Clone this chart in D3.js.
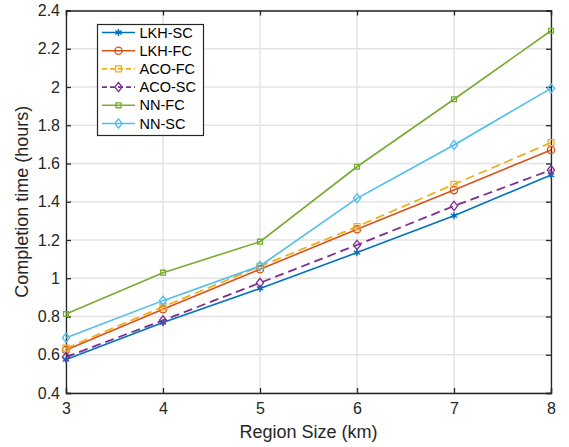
<!DOCTYPE html>
<html><head><meta charset="utf-8">
<script src="https://cdn.jsdelivr.net/npm/d3@7"></script>
<style>body{margin:0;background:#fff}svg{display:block}text{font-family:"Liberation Sans",Arial,sans-serif;}</style>
</head><body><svg id="c" width="569" height="447"></svg>
<script>
const xValues = [3, 4, 5, 6, 7, 8];
const xTicks = [3, 4, 5, 6, 7, 8];
const yTicks = [0.4, 0.6, 0.8, 1, 1.2, 1.4, 1.6, 1.8, 2, 2.2, 2.4];
const seriesNames = ["LKH-SC", "LKH-FC", "ACO-FC", "ACO-SC", "NN-FC", "NN-SC"];
const lkhSC = [0.575, 0.768, 0.947, 1.134, 1.327, 1.540];
const lkhFC = [0.625, 0.838, 1.047, 1.256, 1.461, 1.671];
const acoFC = [0.634, 0.851, 1.062, 1.270, 1.491, 1.709];
const acoSC = [0.588, 0.780, 0.976, 1.174, 1.378, 1.566];
const nnFC  = [0.813, 1.029, 1.191, 1.583, 1.936, 2.294];
const nnSC  = [0.689, 0.883, 1.064, 1.418, 1.697, 1.993];
const seriesValues = [lkhSC, lkhFC, acoFC, acoSC, nnFC, nnSC];
const colors = ["#0072BD", "#D95319", "#EDB120", "#7E2F8E", "#77AC30", "#4DBEEE"];
const markers = ["star", "circle", "square", "diamond", "smallsquare", "diamond"];
const dashed = [false, false, true, true, false, false];

const svg = d3.select("#c");
const L = 66, R = 551, T = 10.5, B = 393;
const x = d3.scaleLinear().domain([3, 8]).range([L, R]);
const y = d3.scaleLinear().domain([0.4, 2.4]).range([B, T]);
const axisColor = "#262626";

// grid
const g = svg.append("g");
g.selectAll(".gx").data(xTicks).join("line")
  .attr("x1", d => x(d)).attr("x2", d => x(d)).attr("y1", T).attr("y2", B)
  .attr("stroke", "#e3e3e3").attr("stroke-width", 1.5);
g.selectAll(".gy").data(yTicks).join("line")
  .attr("y1", d => y(d)).attr("y2", d => y(d)).attr("x1", L).attr("x2", R)
  .attr("stroke", "#e3e3e3").attr("stroke-width", 1.5);

// axes
const fs = "16px";
const xAxis = svg.append("g").attr("transform", `translate(0,${B})`)
  .call(d3.axisBottom(x).tickValues(xTicks).tickSize(-5).tickPadding(10).tickFormat(d3.format("d")));
const xAxisTop = svg.append("g").attr("transform", `translate(0,${T})`)
  .call(d3.axisTop(x).tickValues(xTicks).tickSize(-5).tickFormat(""));
const yAxis = svg.append("g").attr("transform", `translate(${L},0)`)
  .call(d3.axisLeft(y).tickValues(yTicks).tickSize(-5).tickPadding(6).tickFormat(d => String(+d.toFixed(1))));
const yAxisR = svg.append("g").attr("transform", `translate(${R},0)`)
  .call(d3.axisRight(y).tickValues(yTicks).tickSize(-5).tickFormat(""));
[xAxis, xAxisTop, yAxis, yAxisR].forEach(a => {
  a.select(".domain").attr("stroke", axisColor).attr("stroke-width", 1.3);
  a.selectAll(".tick line").attr("stroke", axisColor).attr("stroke-width", 1.3);
  a.selectAll("text").attr("fill", "#262626").style("font-size", fs).style("font-family", '"Liberation Sans",Arial,sans-serif');
});

// lines
const line = d3.line().x((d, i) => x(xValues[i])).y(d => y(d));
const sym = {
  circle: d3.symbol().type(d3.symbolCircle).size(42),
  square: d3.symbol().type(d3.symbolSquare).size(36),
  smallsquare: d3.symbol().type(d3.symbolSquare).size(24),
};
function drawMarker(sel, type, color, cx, cy) {
  if (type === "star") {
    const r = 3.6;
    const gg = sel.append("g").attr("transform", `translate(${cx},${cy})`);
    [[0, r], [r * 0.87, r * 0.5], [r * 0.87, -r * 0.5]].forEach(([dx, dy]) => {
      gg.append("line").attr("x1", -dx).attr("y1", -dy).attr("x2", dx).attr("y2", dy)
        .attr("stroke", color).attr("stroke-width", 1.4);
    });
    gg.append("circle").attr("r", 1.8).attr("fill", color);
  } else if (type === "diamond") {
    sel.append("path").attr("d", "M0,-4.6L3.6,0L0,4.6L-3.6,0Z")
      .attr("transform", `translate(${cx},${cy})`)
      .attr("fill", "none").attr("stroke", color).attr("stroke-width", 1.3);
  } else {
    sel.append("path").attr("d", sym[type]())
      .attr("transform", `translate(${cx},${cy})`)
      .attr("fill", "none").attr("stroke", color).attr("stroke-width", 1.3);
  }
}
const plot = svg.append("g");
seriesValues.forEach((vals, s) => {
  plot.append("path").datum(vals).attr("d", line).attr("fill", "none")
    .attr("stroke", colors[s]).attr("stroke-width", s >= 2 && s <= 3 ? 1.8 : 1.6)
    .attr("stroke-dasharray", dashed[s] ? "9,5" : null);
});
seriesValues.forEach((vals, s) => {
  vals.forEach((v, i) => drawMarker(plot, markers[s], colors[s], x(xValues[i]), y(v)));
});

// legend
const lg = svg.append("g");
lg.append("rect").attr("x", 97.5).attr("y", 24.5).attr("width", 106).attr("height", 111)
  .attr("fill", "#fff").attr("stroke", axisColor).attr("stroke-width", 1.2);
seriesNames.forEach((name, s) => {
  const cy = 32.5 + s * 18.2;
  lg.append("line").attr("x1", 102).attr("x2", 135).attr("y1", cy).attr("y2", cy)
    .attr("stroke", colors[s]).attr("stroke-width", 1.6).attr("stroke-dasharray", dashed[s] ? "5,3" : null);
  drawMarker(lg, markers[s], colors[s], 118.5, cy);
  lg.append("text").attr("x", 139.5).attr("y", cy + 5).text(name)
    .style("font-size", "14.5px").attr("fill", "#000");
});

// axis titles
svg.append("text").attr("x", (L + R) / 2).attr("y", 438).attr("text-anchor", "middle")
  .style("font-size", "18px").attr("fill", "#262626").text("Region Size (km)");
svg.append("text").attr("transform", `translate(28,${(T + B) / 2}) rotate(-90)`).attr("text-anchor", "middle")
  .style("font-size", "18px").attr("fill", "#262626").text("Completion time (hours)");
</script></body></html>
